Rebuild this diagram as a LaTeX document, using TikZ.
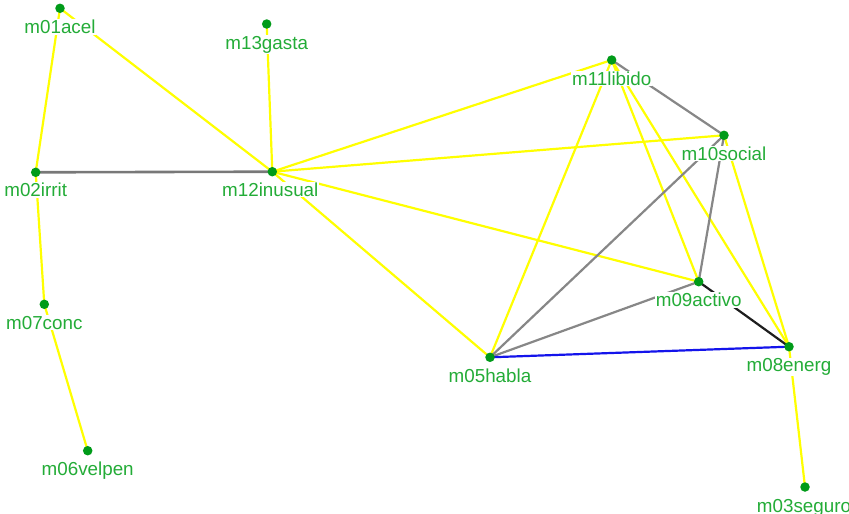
\documentclass[tikz,border=0pt]{standalone}
\usepackage{fontspec}
\setmainfont{Liberation Sans}
\begin{document}
\definecolor{dotgreen}{RGB}{0,155,25}
\definecolor{labgreen}{RGB}{35,172,55}
\definecolor{edgeyellow}{RGB}{255,255,0}
\definecolor{edgegray}{RGB}{135,135,135}
\definecolor{edgedgray}{RGB}{120,120,120}
\definecolor{edgeblack}{RGB}{30,30,30}
\definecolor{edgeblue}{RGB}{20,20,235}
\begin{tikzpicture}[x=1pt,y=-1pt,
  vdot/.style={circle,fill=dotgreen,inner sep=0pt,minimum size=9.5pt},
  vlabel/.style={fill=white,text=labgreen,inner sep=0.8pt,anchor=base,
    font=\fontsize{18.8}{21}\selectfont},
  weak/.style={draw=edgeyellow,line width=2.2pt},
  mid/.style={draw=edgegray,line width=2.2pt},
  midd/.style={draw=edgedgray,line width=2.6pt},
  strong/.style={draw=edgeblack,line width=2.2pt},
  neg/.style={draw=edgeblue,line width=2.2pt}]
\useasboundingbox (0,0) rectangle (849,514);
\fill[white] (0,0) rectangle (849,514);

% vertex positions
\coordinate (m01) at (60,8.3);
\coordinate (m13) at (266.7,24);
\coordinate (m02) at (35.7,172.3);
\coordinate (m12) at (272.3,171.7);
\coordinate (m11) at (611.7,60);
\coordinate (m10) at (724,135.3);
\coordinate (m09) at (698.7,281.7);
\coordinate (m05) at (490,357.3);
\coordinate (m08) at (789,346.7);
\coordinate (m03) at (805,487);
\coordinate (m07) at (44.3,304.3);
\coordinate (m06) at (87.7,450.7);

% edges
\draw[weak] (m01) -- (m02);
\draw[weak] (m01) -- (m12);
\draw[weak] (m13) -- (m12);
\draw[weak] (m02) -- (m07);
\draw[weak] (m07) -- (m06);
\draw[weak] (m12) -- (m11);
\draw[weak] (m12) -- (m10);
\draw[weak] (m12) -- (m09);
\draw[weak] (m12) -- (m05);
\draw[weak] (m11) -- (m05);
\draw[weak] (m11) -- (m09);
\draw[weak] (m11) -- (m08);
\draw[weak] (m10) -- (m08);
\draw[weak] (m08) -- (m03);
\draw[midd] (m02) -- (m12);
\draw[mid] (m11) -- (m10);
\draw[mid] (m10) -- (m05);
\draw[mid] (m10) -- (m09);
\draw[mid] (m09) -- (m05);
\draw[strong] (m09) -- (m08);
\draw[neg] (m05) -- (m08);

% labels below each vertex
\node[vlabel] (l01) at ([yshift=-25.5]m01) {m01acel};
\node[vlabel] (l13) at ([yshift=-25.3]m13) {m13gasta};
\node[vlabel] (l02) at ([yshift=-24.6]m02) {m02irrit};
\node[vlabel] (l12) at ([xshift=-2,yshift=-24.6]m12) {m12inusual};
\node[vlabel] (l11) at ([yshift=-25]m11) {m11libido};
\node[vlabel] (l10) at ([yshift=-25]m10) {m10social};
\node[vlabel] (l09) at ([yshift=-25]m09) {m09activo};
\node[vlabel] (l05) at ([yshift=-25]m05) {m05habla};
\node[vlabel] (l08) at ([yshift=-25]m08) {m08energ};
\node[vlabel] (l03) at ([xshift=-1,yshift=-25]m03) {m03seguro};
\node[vlabel] (l07) at ([yshift=-25]m07) {m07conc};
\node[vlabel] (l06) at ([yshift=-25]m06) {m06velpen};

% vertices
\foreach \v in {m01,m13,m02,m12,m11,m10,m09,m05,m08,m03,m07,m06}
  \node[vdot] (d\v) at (\v) {};
\end{tikzpicture}
\end{document}
